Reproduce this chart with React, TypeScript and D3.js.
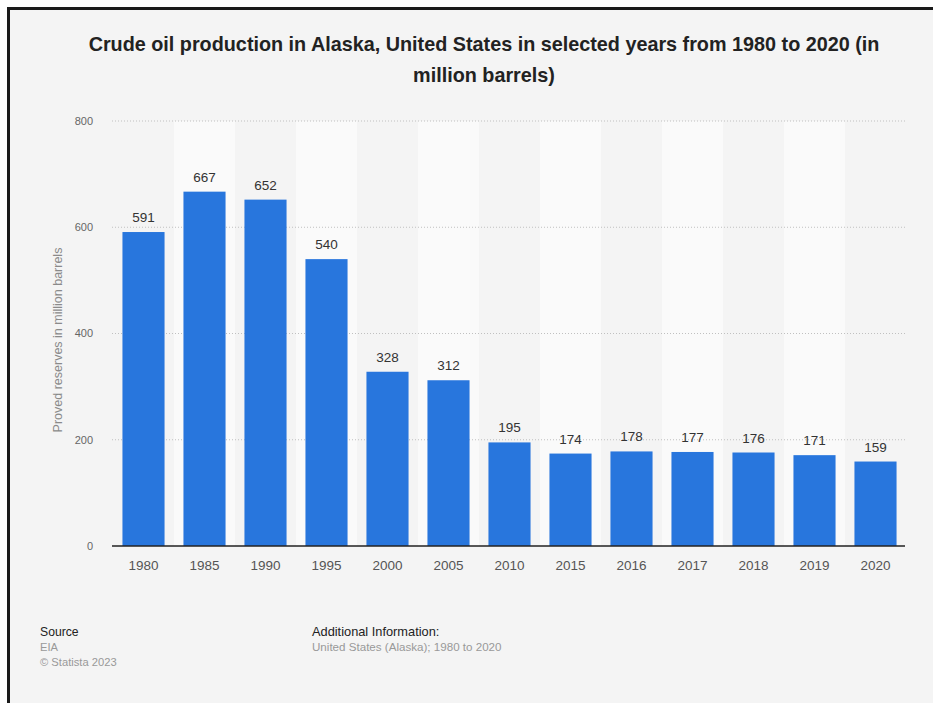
import React from "react";
import * as d3 from "d3";

const years = ["1980","1985","1990","1995","2000","2005","2010","2015","2016","2017","2018","2019","2020"];
const values = [591, 667, 652, 540, 328, 312, 195, 174, 178, 177, 176, 171, 159];
const yTicks = [0, 200, 400, 600, 800];
const titleLines = [
  "Crude oil production in Alaska, United States in selected years from 1980 to 2020 (in",
  "million barrels)",
];
const yAxisTitle = "Proved reserves in million barrels";

const W = 933, H = 703;
const FONT = "'Liberation Sans', Arial, Helvetica, sans-serif";

export default function App() {
  const left = 112, right = 905, top = 121, bottom = 546;
  const x = d3.scaleBand<string>().domain(years).range([left + 1, right + 1]).padding(0);
  const y = d3.scaleLinear().domain([0, 800]).range([bottom, top]);
  const bw = x.bandwidth();
  const barW = bw * 0.69;

  return (
    <svg width={W} height={H} style={{ position: "absolute", left: 0, top: 0 }} fontFamily={FONT}>
      <rect x={0} y={0} width={W} height={H} fill="#ffffff" />
      <rect x={8.5} y={8.5} width={W + 20} height={H + 20} fill="#f4f4f4" stroke="#1a1a1a" strokeWidth={3} />
      {titleLines.map((t, i) => (
        <text key={i} x={484} y={51 + i * 31} textAnchor="middle" fontSize={19.8} fontWeight="bold" fill="#222">{t}</text>
      ))}
      {years.map((yr, i) => i % 2 === 1 ? (
        <rect key={"band" + yr} x={x(yr)} y={top} width={bw} height={bottom - top} fill="#fafafa" />
      ) : null)}
      {yTicks.filter(t => t > 0).map(t => (
        <line key={"g" + t} x1={left} x2={right} y1={y(t)} y2={y(t)} stroke="#c0c0c0" strokeWidth={1} strokeDasharray="1,2" />
      ))}
      {yTicks.map(t => (
        <text key={"yt" + t} x={93} y={y(t)} dy="0.35em" textAnchor="end" fontSize={11} fill="#666">{t}</text>
      ))}
      <text transform={`translate(62,340) rotate(-90)`} textAnchor="middle" fontSize={12.5} fill="#8a8a8a">{yAxisTitle}</text>
      {years.map((yr, i) => {
        const cx = (x(yr) as number) + bw / 2;
        return (
          <g key={"bar" + yr}>
            <rect x={cx - barW / 2} y={y(values[i])} width={barW} height={bottom - y(values[i])} fill="#2876dd" />
            <text x={cx} y={y(values[i]) - 10} textAnchor="middle" fontSize={13.5} fill="#333">{values[i]}</text>
            <text x={cx} y={570} textAnchor="middle" fontSize={13.5} fill="#555">{yr}</text>
          </g>
        );
      })}
      <line x1={left} x2={right} y1={bottom} y2={bottom} stroke="#222" strokeWidth={1.5} />
      <text x={40} y={636} fontSize={12.2} fill="#222">Source</text>
      <text x={40} y={651} fontSize={11.2} fill="#999">EIA</text>
      <text x={40} y={666} fontSize={11.2} fill="#999">© Statista 2023</text>
      <text x={312} y={636} fontSize={12.8} fill="#222">Additional Information:</text>
      <text x={312} y={651} fontSize={11.6} fill="#999">United States (Alaska); 1980 to 2020</text>
    </svg>
  );
}
